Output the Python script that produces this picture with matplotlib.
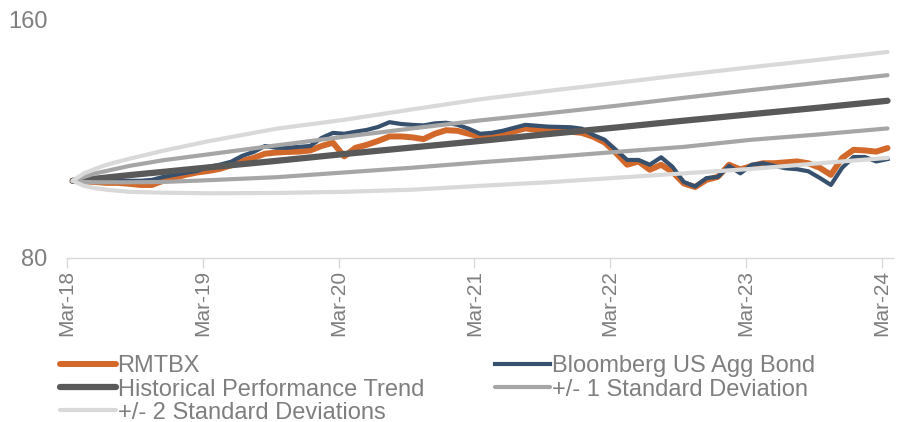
import numpy as np
import matplotlib
matplotlib.use("Agg")
import matplotlib.pyplot as plt

plt.rcParams['font.family'] = ['Liberation Sans', 'DejaVu Sans']

# monthly index values, Mar-18 .. Mar-24
rmtbx = [105.9, 105.7, 105.5, 105.2, 105.2, 104.9, 104.5, 104.5, 105.9, 106.9,
         107.9, 108.7, 109.2, 109.9, 111.1, 112.6, 113.6, 115.0, 115.4, 115.6,
         115.7, 116.1, 117.6, 118.7, 114.1, 117.0, 118.0, 119.3, 120.8, 120.8,
         120.5, 119.9, 121.7, 122.9, 122.7, 121.7, 120.7, 121.3, 121.5, 122.5,
         123.5, 123.0, 122.8, 122.7, 122.4, 122.0, 120.7, 118.8, 115.3, 111.3,
         112.4, 109.6, 111.3, 108.9, 105.0, 103.8, 106.2, 107.2, 111.3, 109.7,
         110.9, 111.8, 111.8, 112.1, 112.4, 111.8, 110.3, 107.9, 113.6, 116.3,
         116.1, 115.7, 116.9]
agg_bond = [105.9, 105.9, 105.9, 105.7, 105.9, 105.9, 105.9, 106.2, 107.2, 107.9,
            108.6, 109.2, 110.6, 111.3, 112.3, 114.3, 115.6, 117.6, 117.0, 117.0,
            117.3, 117.6, 120.3, 122.0, 121.7, 122.4, 123.0, 124.0, 125.6, 125.0,
            124.7, 124.5, 125.2, 125.4, 124.7, 123.4, 121.7, 122.0, 122.7, 123.7,
            124.7, 124.4, 124.1, 124.0, 123.9, 123.4, 121.3, 119.7, 116.3, 112.9,
            112.9, 111.3, 113.8, 110.6, 105.5, 104.0, 106.8, 107.2, 110.9, 108.4,
            111.3, 111.8, 110.9, 110.1, 109.8, 109.1, 106.9, 104.5, 110.3, 113.9,
            113.9, 112.4, 113.2]

# trend and deviation bands, read at these months
band_months = [0, 1, 2, 3, 5, 8, 12, 18, 24, 30, 36, 42, 48, 54, 60, 66, 72]
trend = [105.9, 106.3, 106.6, 107.0, 107.8, 108.9, 110.4, 112.6, 114.9, 117.1,
         119.3, 121.6, 123.8, 126.1, 128.3, 130.5, 132.8]
plus1 = [105.9, 107.2, 108.4, 109.2, 110.9, 112.8, 114.8, 117.8, 120.7, 123.5,
         126.2, 128.6, 131.1, 133.8, 136.4, 138.9, 141.4]
minus1 = [105.9, 105.5, 105.4, 105.4, 105.4, 105.5, 106.1, 107.1, 108.7, 110.3,
          112.1, 113.8, 115.6, 117.3, 119.7, 121.5, 123.5]
plus2 = [105.9, 108.4, 109.9, 111.3, 113.3, 116.0, 119.2, 123.4, 126.4, 129.9,
         133.3, 136.1, 138.8, 141.5, 144.1, 146.6, 149.2]
minus2 = [105.9, 104.2, 103.4, 102.9, 102.2, 101.9, 101.7, 101.8, 102.2, 102.9,
          104.2, 105.4, 106.9, 108.4, 109.9, 111.8, 113.6]

tick_labels = ['Mar-18', 'Mar-19', 'Mar-20', 'Mar-21', 'Mar-22', 'Mar-23', 'Mar-24']

months = np.arange(len(rmtbx))
grey_txt = '#7F7F7F'

fig = plt.figure(figsize=(8.99, 4.22), dpi=100)
ax = fig.add_axes([0.0745, 0.389, 0.919, 0.564])

l_rm, = ax.plot(months, rmtbx, color='#D2692B', lw=4.3, solid_capstyle='round',
                solid_joinstyle='round', label='RMTBX')
l_ag, = ax.plot(months, agg_bond, color='#36506E', lw=3.0, solid_joinstyle='round',
                label='Bloomberg US Agg Bond')
l_tr, = ax.plot(band_months, trend, color='#595959', lw=4.5,
                solid_capstyle='round', label='Historical Performance Trend')
l_p1, = ax.plot(band_months, plus1, color='#A6A6A6', lw=3.0,
                solid_capstyle='round', label='+/- 1 Standard Deviation')
ax.plot(band_months, minus1, color='#A6A6A6', lw=3.0, solid_capstyle='round')
l_p2, = ax.plot(band_months, plus2, color='#D9D9D9', lw=3.0,
                solid_capstyle='round', label='+/- 2 Standard Deviations')
ax.plot(band_months, minus2, color='#D9D9D9', lw=3.0, solid_capstyle='round')

ax.set_xlim(-0.5, 72.5)
ax.set_ylim(80, 160)
ax.set_yticks([80, 160])
ax.set_xticks(np.arange(-0.5, 72, 12))
ax.set_xticklabels(tick_labels, rotation=90)

for s in ['top', 'right', 'left']:
    ax.spines[s].set_visible(False)
ax.spines['bottom'].set_color('#D9D9D9')
ax.spines['bottom'].set_linewidth(1.0)
ax.tick_params(axis='y', length=0, pad=14, labelsize=17, labelcolor=grey_txt)
ax.tick_params(axis='x', length=7, width=1.0, color='#D9D9D9', pad=2,
               labelsize=15, labelcolor=grey_txt)

handles = [l_rm, l_tr, l_p2, l_ag, l_p1]
leg = fig.legend(handles=handles, labels=[h.get_label() for h in handles],
                 ncol=2, loc='upper left', bbox_to_anchor=(0.067, 0.158),
                 frameon=False, fontsize=17, handlelength=2.35, handletextpad=0.08,
                 columnspacing=3.0, labelspacing=0.05, borderpad=0, borderaxespad=0)
for t in leg.get_texts():
    t.set_color(grey_txt)

fig.savefig('out.png', dpi=100)
